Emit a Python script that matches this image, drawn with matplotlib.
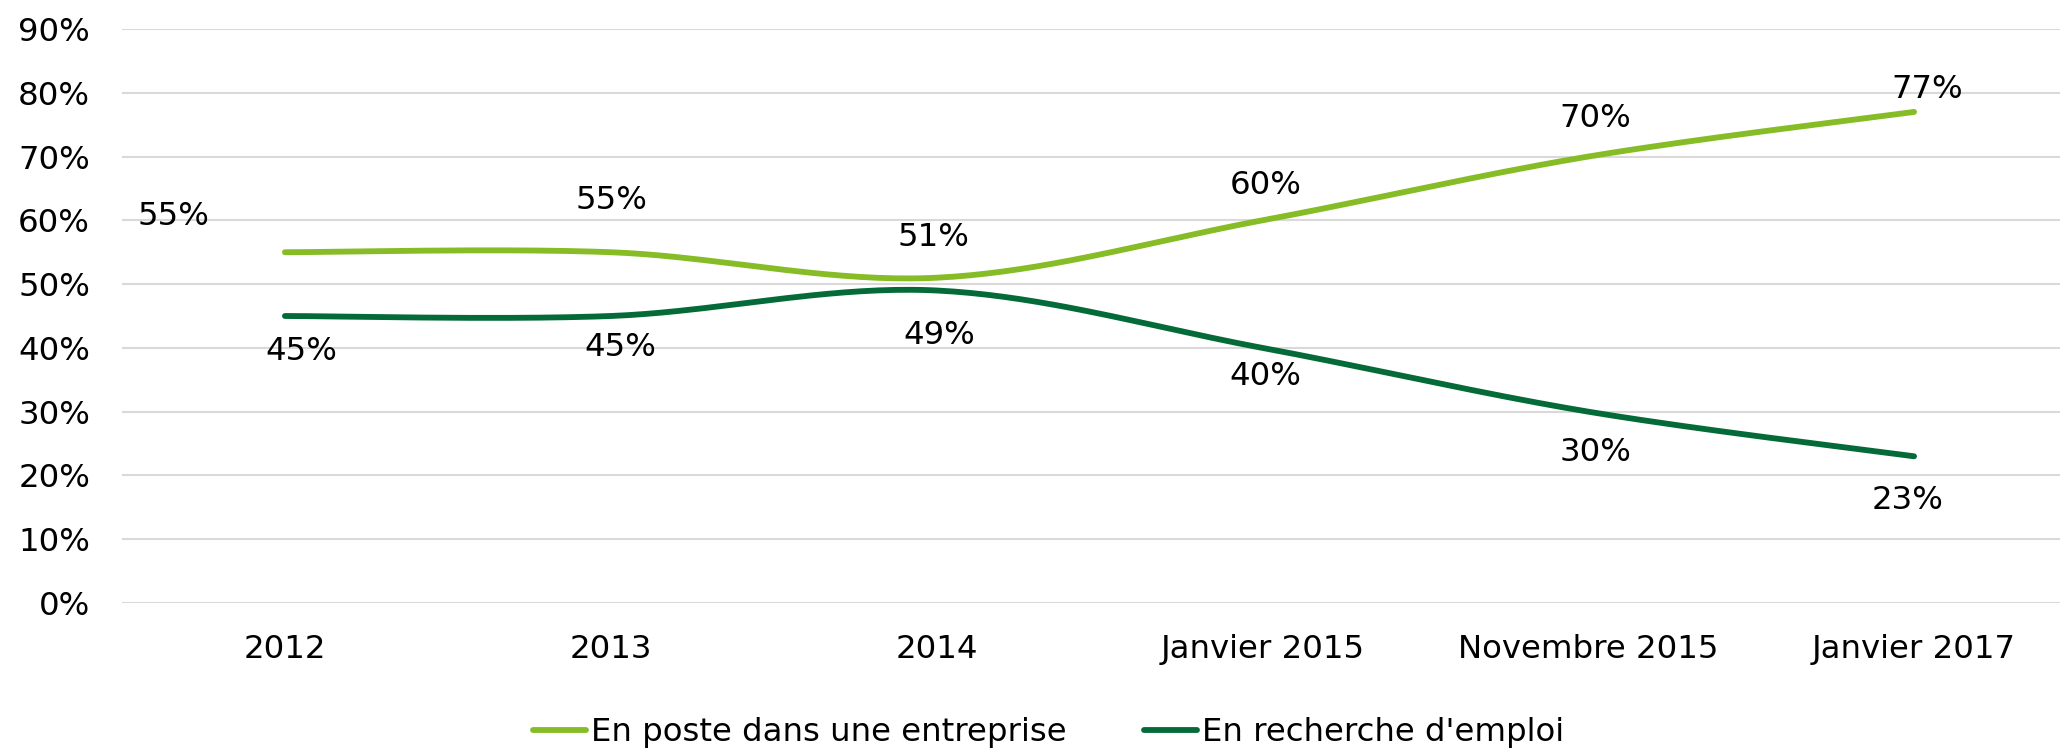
import numpy as np
import matplotlib
matplotlib.use("Agg")
import matplotlib.pyplot as plt

categories = ["2012", "2013", "2014", "Janvier 2015", "Novembre 2015", "Janvier 2017"]
en_poste = [55, 55, 51, 60, 70, 77]
en_recherche = [45, 45, 49, 40, 30, 23]
series_names = ["En poste dans une entreprise", "En recherche d'emploi"]
y_ticks = [0, 10, 20, 30, 40, 50, 60, 70, 80, 90]

LIGHT = "#86BC25"
DARK = "#046A38"
FS = 23.3

plt.rcParams['font.family'] = ['DejaVu Sans']

W, H = 2060, 753
fig = plt.figure(figsize=(W / 100, H / 100), dpi=100)
left, right = 122, 2077
top, bottom = 29, 603
ax = fig.add_axes([left / W, (H - bottom) / H, (right - left) / W, (bottom - top) / H])


def smooth(xs, ys, n=40):
    """Catmull-Rom (Excel-like) smoothing through the given points."""
    P = np.column_stack([xs, ys]).astype(float)
    P = np.vstack([P[0], P, P[-1]])
    out = []
    for i in range(1, len(P) - 2):
        p0, p1, p2, p3 = P[i - 1], P[i], P[i + 1], P[i + 2]
        c1 = p1 + (p2 - p0) / 6.0
        c2 = p2 - (p3 - p1) / 6.0
        t = np.linspace(0, 1, n)[:, None]
        seg = ((1 - t) ** 3) * p1 + 3 * ((1 - t) ** 2) * t * c1 + 3 * (1 - t) * t ** 2 * c2 + t ** 3 * p2
        out.append(seg if i == 1 else seg[1:])
    out = np.vstack(out)
    return out[:, 0], out[:, 1]


x = np.arange(len(categories))
for vals, col, name in [(en_poste, LIGHT, series_names[0]), (en_recherche, DARK, series_names[1])]:
    sx, sy = smooth(x, vals)
    ax.plot(sx, sy, color=col, lw=4.2, solid_capstyle='round', label=name, zorder=3)

# data labels (offsets in pixels)
light_off = [(-111, 36), (1, 52), (-3, 40), (3, 35), (7, 38), (13, 22)]
dark_off = [(16, -36), (10, -32), (3, -45), (3, -29), (7, -41), (-7, -44)]
for vals, offs in [(en_poste, light_off), (en_recherche, dark_off)]:
    for xi, v, (dx, dy) in zip(x, vals, offs):
        ax.annotate(f"{v}%", (xi, v), xytext=(dx, dy), textcoords='offset pixels',
                    ha='center', va='center', fontsize=FS, color='black')

ax.set_xlim(-0.5, len(categories) - 0.5)
ax.set_ylim(0, 90)
ax.set_yticks(y_ticks)
ax.set_yticklabels([f"{t}%" for t in y_ticks])
ax.set_xticks(x)
ax.set_xticklabels(categories)
ax.tick_params(axis='y', length=0, pad=23, labelsize=FS)
ax.tick_params(axis='x', length=0, pad=22, labelsize=FS)
ax.grid(axis='y', color='#D9D9D9', lw=1.5)
ax.set_axisbelow(True)
for s in ax.spines.values():
    s.set_visible(False)

fig.legend(loc='center', bbox_to_anchor=(1048.5 / W, 20 / H), ncol=2, frameon=False,
           fontsize=FS, handlelength=1.65, handletextpad=0.15, columnspacing=2.4)

fig.savefig("out.png", dpi=100)
